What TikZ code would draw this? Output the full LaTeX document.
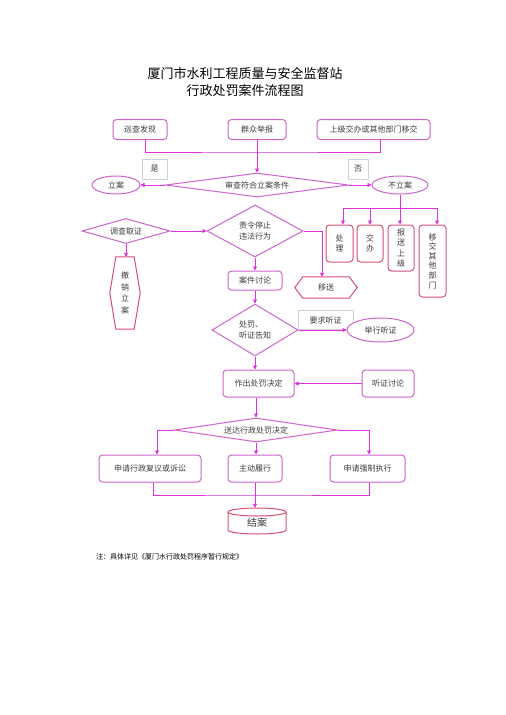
\documentclass[tikz,border=0pt]{standalone}
\usepackage{fontspec}
\newfontfamily\cjk{Noto Sans CJK SC}
\usetikzlibrary{shapes.geometric,arrows.meta,backgrounds}
\definecolor{boxc}{RGB}{206,100,206}
\definecolor{linec}{RGB}{222,50,222}
\definecolor{redc}{RGB}{214,82,112}
\definecolor{txtc}{RGB}{60,60,60}
\begin{document}
\begin{tikzpicture}[x=1pt,y=-1pt,
  font=\cjk\fontsize{8}{10.5}\selectfont,
  pbox/.style={draw=boxc, line width=1pt, rounded corners=3.5pt, fill=white, inner sep=0pt, align=center, text=txtc},
  rbox/.style={draw=redc, line width=1pt, rounded corners=3.5pt, fill=white, inner sep=0pt, align=center, text=txtc},
  rshape/.style={draw=redc, line width=1pt},
  conn/.style={draw=linec, line width=0.9pt},
  arr/.style={conn, -{Triangle[length=4pt,width=4pt]}},
  dia/.style={diamond, draw=boxc, line width=1pt, fill=white, inner sep=0pt, align=center, text=txtc},
  ell/.style={ellipse, draw=boxc, line width=1pt, fill=white, inner sep=0pt, align=center, text=txtc},
  lab/.style={draw=black!18, line width=0.6pt, fill=white, inner sep=0pt, text=txtc},
  plain/.style={inner sep=0pt, align=center, text=txtc}
]
\useasboundingbox[fill=white] (0,0) rectangle (506,715);

% titles
\node[plain, text=black, font=\cjk\fontsize{13}{15}\selectfont] (t1) at (245,73) {厦门市水利工程质量与安全监督站};
\node[plain, text=black, font=\cjk\fontsize{13}{15}\selectfont] (t2) at (245,91) {行政处罚案件流程图};

% top sources
\node[pbox, minimum width=54pt, minimum height=20pt] (xc) at (140,129.5) {巡查发现};
\node[pbox, minimum width=58pt, minimum height=20pt] (qz) at (257,129.5) {群众举报};
\node[pbox, minimum width=113pt, minimum height=20pt] (sj) at (373.5,129.5) {上级交办或其他部门移交};
\coordinate (bus) at (257,152);

% decision 1
\node[dia, minimum width=183pt, minimum height=24pt, aspect=7.6] (sc) at (257,185) {审查符合立案条件};
\node[ell, minimum width=48pt, minimum height=18pt] (la) at (116,185) {立案};
\node[ell, minimum width=56pt, minimum height=18pt] (bla) at (400,185) {不立案};
\node[lab, minimum width=25pt, minimum height=20pt] (shi) at (154.5,169) {是};
\node[lab, minimum width=20pt, minimum height=20pt] (fou) at (358,169) {否};

% left branch
\node[dia, minimum width=88pt, minimum height=25pt, aspect=3.5] (dc) at (126,231) {调查取证};
\node[plain, minimum width=30pt, minimum height=72pt, font=\cjk\fontsize{8}{11.8}\selectfont] (cx) at (125,293) {撤\\销\\立\\案};
\draw[rshape] ([xshift=6pt]cx.north west) -- ([xshift=-6pt]cx.north east) -- (cx.east) -- ([xshift=-6pt]cx.south east) -- ([xshift=6pt]cx.south west) -- (cx.west) -- cycle;

% middle
\node[dia, minimum width=96pt, minimum height=52pt, aspect=1.85] (zl) at (255,231) {责令停止\\违法行为};
\node[pbox, minimum width=54pt, minimum height=19pt] (tl) at (255,280.5) {案件讨论};
\node[plain, minimum width=62pt, minimum height=21pt] (ys) at (326,287.5) {移送};
\draw[rshape] ([xshift=8pt]ys.north west) -- ([xshift=-8pt]ys.north east) -- (ys.east) -- ([xshift=-8pt]ys.south east) -- ([xshift=8pt]ys.south west) -- (ys.west) -- cycle;

% right boxes
\coordinate (bb) at (400,208);
\node[rbox, minimum width=27pt, minimum height=37pt] (cl) at (339.5,243.5) {处\\理};
\node[rbox, minimum width=26pt, minimum height=37pt] (jb) at (370,243.5) {交\\办};
\node[rbox, minimum width=26pt, minimum height=46pt] (bs) at (401,248) {报\\送\\上\\级};
\node[rbox, minimum width=27pt, minimum height=72pt, font=\cjk\fontsize{8}{9.6}\selectfont] (yj) at (432.5,261) {移\\交\\其\\他\\部\\门};

% hearing
\node[dia, minimum width=86pt, minimum height=52pt, aspect=1.65, align=left] (cf) at (255,330) {处罚、\\听证告知};
\node[lab, minimum width=55pt, minimum height=19pt] (yq) at (325.5,320) {要求听证};
\node[ell, minimum width=67pt, minimum height=24pt] (jx) at (380.5,330) {举行听证};
\node[pbox, minimum width=52pt, minimum height=27pt] (tt) at (388,383.5) {听证讨论};
\node[pbox, minimum width=71pt, minimum height=27pt] (zc) at (258.5,383.5) {作出处罚决定};

% delivery
\node[dia, minimum width=163pt, minimum height=24pt, aspect=6.8] (sd) at (256,430) {送达行政处罚决定};
\node[pbox, minimum width=102pt, minimum height=27pt] (fy) at (150,468.5) {申请行政复议或诉讼};
\node[pbox, minimum width=54pt, minimum height=27pt] (zd) at (255,468.5) {主动履行};
\node[pbox, minimum width=75pt, minimum height=27pt] (qz2) at (367.5,468.5) {申请强制执行};
\coordinate (bb2) at (255,495);

% end cylinder
\node[plain, minimum width=58pt, minimum height=26pt] (ja) at (257,521) {};
\draw[rshape, fill=white] (228,512) -- (228,530) arc[start angle=180, end angle=360, x radius=29pt, y radius=4pt] -- (286,512);
\draw[rshape] (257,512) ellipse[x radius=29pt, y radius=4pt];
\node[plain, font=\cjk\fontsize{10}{12}\selectfont] (jat) at (257,523) {结案};

% note
\node[plain, text=black, anchor=west, font=\cjk\fontsize{7}{8}\selectfont] (note) at (96,557) {注：具体详见《厦门水行政处罚程序暂行规定》};

% connectors
\draw[conn] ([xshift=5pt]xc.south) |- (bus) -| ([xshift=6.5pt]sj.south);
\draw[arr] (qz.south) -- (sc.north);
\draw[arr] (sc.west) -- (la.east);
\draw[arr] (sc.east) -- (bla.west);
\begin{scope}[on background layer]
\draw[arr] (la.center -| dc.north) -- (dc.north);
\draw[arr] (jx.center -| tt.north) -- (tt.north);
\end{scope}
\draw[arr] (dc.south) -- (dc.south |- cx.north);
\draw[arr] (dc.east) -- (zl.west);
\draw[arr] (zl.east) -| ([xshift=-4pt]ys.north);
\draw[arr] (zl.south) -- (tl.north);
\draw[conn] (bla.south) -- (bb);
\draw[conn] ([xshift=3.5pt]cl.north |- bb) -- ([xshift=4.5pt]yj.north |- bb);
\draw[arr] ([xshift=3.5pt]cl.north |- bb) -- ([xshift=3.5pt]cl.north);
\draw[arr] (jb.north |- bb) -- (jb.north);
\draw[arr] ([xshift=-1pt]bs.north |- bb) -- ([xshift=-1pt]bs.north);
\draw[arr] ([xshift=4.5pt]yj.north |- bb) -- ([xshift=4.5pt]yj.north);
\draw[arr] (tl.south) -- (cf.north);
\draw[arr] (cf.east) -- (jx.west);
\draw[arr] (tt.west) -- (zc.east);
\draw[arr] (cf.south) -- (cf.south |- zc.north);
\draw[arr] (zc.south -| sd.north) -- (sd.north);
\draw[arr] (sd.west) -| ([xshift=7pt]fy.north);
\draw[arr] (sd.south) -- (sd.south |- zd.north);
\draw[arr] (sd.east) -| ([xshift=1.5pt]qz2.north);
\draw[conn] ([xshift=3pt]fy.south) |- (bb2) -| ([xshift=1.5pt]qz2.south);
\draw[arr] (zd.south) -- (zd.south |- ja.north);
\end{tikzpicture}
\end{document}
